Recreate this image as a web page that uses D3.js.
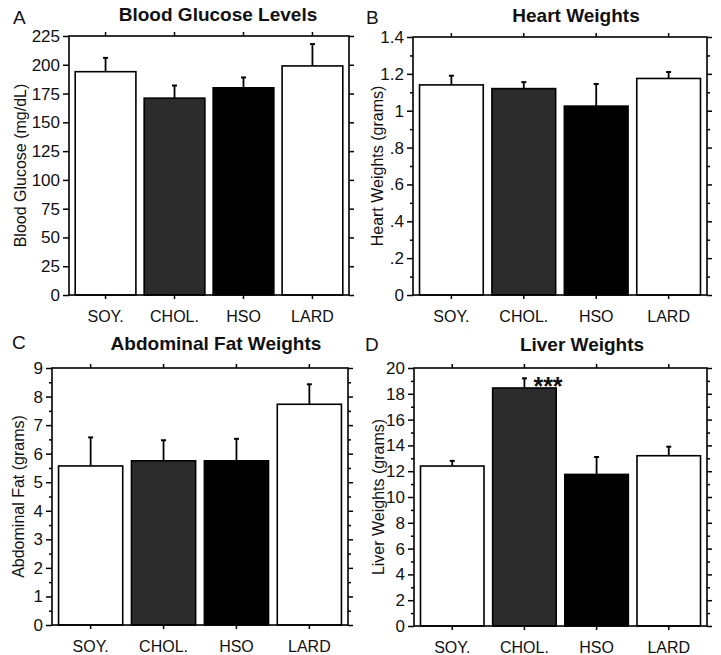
<!DOCTYPE html>
<html>
<head>
<meta charset="utf-8">
<script src="https://cdn.jsdelivr.net/npm/d3@7"></script>
<style>
  html, body { margin: 0; padding: 0; background: #fff; }
  svg { display: block; font-family: Arial, "Liberation Sans", Helvetica, sans-serif; }
</style>
</head>
<body>
<svg id="chart" width="721" height="655"></svg>
<script>
// ---- data ----
const categories = ["SOY.", "CHOL.", "HSO", "LARD"];
const barColors = ["#ffffff", "#2c2c2c", "#000000", "#ffffff"];

const glucoseMean = [194, 171, 180, 199];
const glucoseErr  = [12, 11, 9, 19];
const glucoseTicks = [0, 25, 50, 75, 100, 125, 150, 175, 200, 225];

const heartMean = [1.14, 1.12, 1.025, 1.175];
const heartErr  = [0.05, 0.035, 0.12, 0.035];
const heartTicks = [0, 0.2, 0.4, 0.6, 0.8, 1.0, 1.2, 1.4];
const heartTickLabels = ["0", ".2", ".4", ".6", ".8", "1", "1.2", "1.4"];
const heartMinor = [0.1, 0.3, 0.5, 0.7, 0.9, 1.1, 1.3];

const fatMean = [5.57, 5.75, 5.75, 7.73];
const fatErr  = [1.0, 0.72, 0.77, 0.7];
const fatTicks = [0, 1, 2, 3, 4, 5, 6, 7, 8, 9];
const fatMinor = [0.5, 1.5, 2.5, 3.5, 4.5, 5.5, 6.5, 7.5, 8.5];

const liverMean = [12.4, 18.45, 11.75, 13.2];
const liverErr  = [0.4, 0.75, 1.35, 0.7];
const liverTicks = [0, 2, 4, 6, 8, 10, 12, 14, 16, 18, 20];
const liverMinor = [1, 3, 5, 7, 9, 11, 13, 15, 17, 19];

const svg = d3.select("#chart");

function panel(cfg) {
  const g = svg.append("g");
  const x = d3.scaleBand().domain(categories).range([cfg.x0, cfg.x1])
    .paddingInner(0.12).paddingOuter(0.09);
  const y = d3.scaleLinear().domain([0, cfg.max]).range([cfg.y1, cfg.y0]);

  // bars
  g.selectAll("rect.bar").data(categories).join("rect")
    .attr("class", "bar")
    .attr("x", c => x(c))
    .attr("y", (c, i) => y(cfg.mean[i]))
    .attr("width", x.bandwidth())
    .attr("height", (c, i) => y(0) - y(cfg.mean[i]))
    .attr("fill", (c, i) => barColors[i])
    .attr("stroke", "#000").attr("stroke-width", 1.6);

  // error bars (upper only)
  const eb = g.selectAll("g.err").data(categories).join("g").attr("class", "err");
  eb.append("line")
    .attr("x1", c => x(c) + x.bandwidth() / 2).attr("x2", c => x(c) + x.bandwidth() / 2)
    .attr("y1", (c, i) => y(cfg.mean[i])).attr("y2", (c, i) => y(cfg.mean[i] + cfg.err[i]))
    .attr("stroke", "#000").attr("stroke-width", 1.8);
  eb.append("line")
    .attr("x1", c => x(c) + x.bandwidth() / 2 - 2.5).attr("x2", c => x(c) + x.bandwidth() / 2 + 2.5)
    .attr("y1", (c, i) => y(cfg.mean[i] + cfg.err[i])).attr("y2", (c, i) => y(cfg.mean[i] + cfg.err[i]))
    .attr("stroke", "#000").attr("stroke-width", 2);

  // left axis
  const left = g.append("g").attr("class", "yax").attr("transform", `translate(${cfg.x0},0)`)
    .call(d3.axisLeft(y).tickValues(cfg.ticks).tickSize(6).tickPadding(3)
      .tickFormat((d, i) => cfg.labels ? cfg.labels[i] : d));
  if (cfg.minor) {
    g.append("g").attr("transform", `translate(${cfg.x0},0)`)
      .call(d3.axisLeft(y).tickValues(cfg.minor).tickSize(3).tickFormat(""));
  }
  // right axis
  g.append("g").attr("transform", `translate(${cfg.x1},0)`)
    .call(d3.axisRight(y).tickValues(cfg.ticks).tickSize(5).tickFormat(""));
  if (cfg.minor) {
    g.append("g").attr("transform", `translate(${cfg.x1},0)`)
      .call(d3.axisRight(y).tickValues(cfg.minor).tickSize(3).tickFormat(""));
  }
  // bottom axis
  g.append("g").attr("class", "xax").attr("transform", `translate(0,${cfg.y1})`)
    .call(d3.axisBottom(x).tickSize(4).tickPadding(11.5));
  // top axis
  g.append("g").attr("transform", `translate(0,${cfg.y0})`)
    .call(d3.axisTop(x).tickSize(4).tickFormat(""));

  g.selectAll(".domain").remove();
  g.selectAll(".tick line").attr("stroke", "#000").attr("stroke-width", 1.5);
  g.selectAll(".tick text").attr("fill", "#111")
    .attr("font-family", "Arial, 'Liberation Sans', sans-serif");
  g.selectAll(".yax .tick text").attr("font-size", 17);
  g.selectAll(".xax .tick text").attr("font-size", 16);

  // frame
  g.append("rect").attr("x", cfg.x0).attr("y", cfg.y0)
    .attr("width", cfg.x1 - cfg.x0).attr("height", cfg.y1 - cfg.y0)
    .attr("fill", "none").attr("stroke", "#000").attr("stroke-width", 1.6);

  // y label
  g.append("text")
    .attr("transform", `translate(${cfg.ylabelX},${(cfg.y0 + cfg.y1) / 2}) rotate(-90)`)
    .attr("text-anchor", "middle").attr("dominant-baseline", "central")
    .attr("font-size", 16).attr("fill", "#111").text(cfg.ylabel);

  // title
  g.append("text").attr("x", cfg.titleX).attr("y", cfg.titleY)
    .attr("text-anchor", "middle").attr("font-weight", "bold")
    .attr("font-size", 19).attr("fill", "#111").text(cfg.title);

  // panel letter
  g.append("text").attr("x", cfg.letterX).attr("y", cfg.letterY)
    .attr("font-size", 19).attr("fill", "#111").text(cfg.letter);

  return { g, x, y };
}

panel({ x0: 69, x1: 349, y0: 36, y1: 295, max: 225,
  mean: glucoseMean, err: glucoseErr, ticks: glucoseTicks,
  ylabel: "Blood Glucose (mg/dL)", ylabelX: 20,
  title: "Blood Glucose Levels", titleX: 218, titleY: 21,
  letter: "A", letterX: 13, letterY: 24 });

panel({ x0: 413, x1: 707, y0: 37, y1: 295, max: 1.4,
  mean: heartMean, err: heartErr, ticks: heartTicks, labels: heartTickLabels, minor: heartMinor,
  ylabel: "Heart Weights (grams)", ylabelX: 377,
  title: "Heart Weights", titleX: 576, titleY: 22,
  letter: "B", letterX: 366, letterY: 24 });

panel({ x0: 52, x1: 348, y0: 368, y1: 625, max: 9,
  mean: fatMean, err: fatErr, ticks: fatTicks, minor: fatMinor,
  ylabel: "Abdominal Fat (grams)", ylabelX: 18,
  title: "Abdominal Fat Weights", titleX: 216, titleY: 350,
  letter: "C", letterX: 12, letterY: 349 });

const pD = panel({ x0: 414, x1: 707, y0: 368, y1: 626, max: 20,
  mean: liverMean, err: liverErr, ticks: liverTicks, minor: liverMinor,
  ylabel: "Liver Weights (grams)", ylabelX: 378,
  title: "Liver Weights", titleX: 582, titleY: 351,
  letter: "D", letterX: 365, letterY: 351 });

// significance marker
pD.g.append("text")
  .attr("x", pD.x("CHOL.") + pD.x.bandwidth() / 2 + 9)
  .attr("y", pD.y(liverMean[1] + liverErr[1]) + 17)
  .attr("font-size", 25).attr("font-weight", "bold").attr("fill", "#111")
  .text("***");
</script>
</body>
</html>
